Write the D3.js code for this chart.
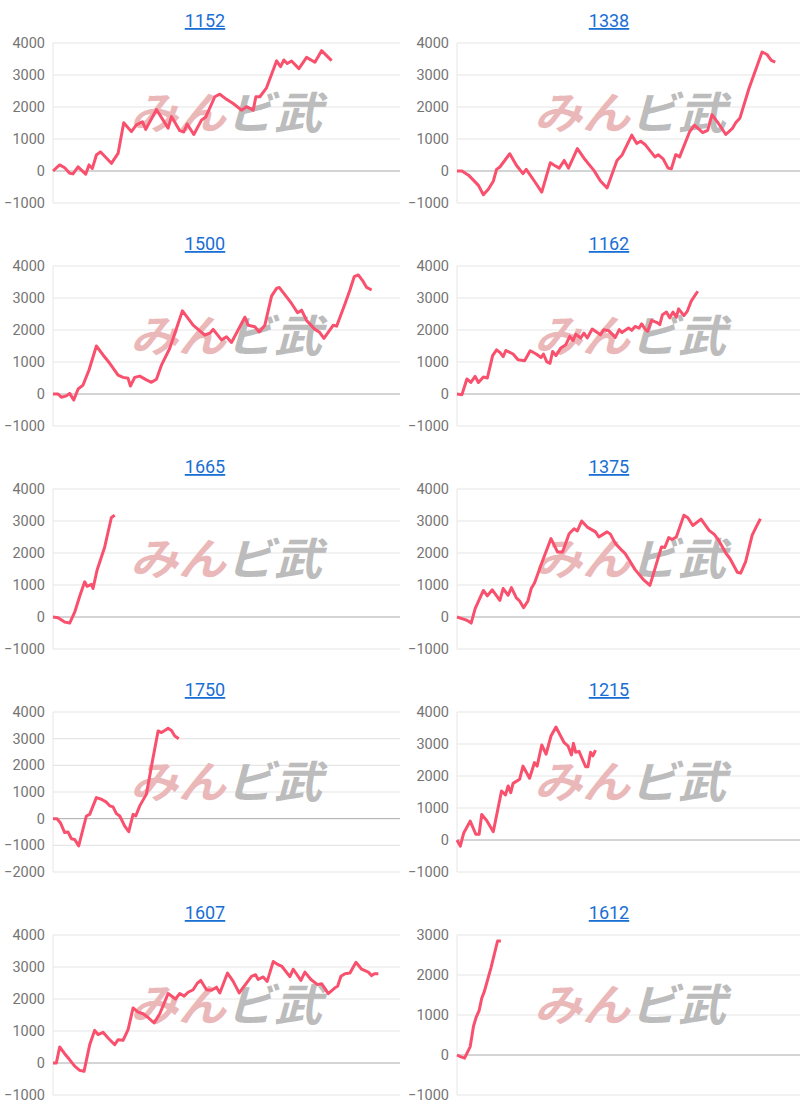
<!DOCTYPE html>
<html>
<head>
<meta charset="utf-8">
<script src="https://cdn.jsdelivr.net/npm/d3@7"></script>
<style>
  body { margin: 0; background: #fff; }
  svg { display: block; font-family: Roboto, "Noto Sans", Arial, sans-serif; }
</style>
</head>
<body>
<svg id="chart" width="800" height="1108"></svg>
<script>
// titles of each machine chart, in page order
const titles = ["1152", "1338", "1500", "1162", "1665", "1375", "1750", "1215", "1607", "1612"];

// y tick values per chart
const ticksDefault = [-1000, 0, 1000, 2000, 3000, 4000];
const ticks1750 = [-2000, -1000, 0, 1000, 2000, 3000, 4000];
const ticks1612 = [-1000, 0, 1000, 2000, 3000];

// series: [t, value]  (t = game progress, common range 0..1040)
const s1152 = [[0,0],[20,190],[35,100],[50,-70],[60,-90],[75,130],[98,-100],[108,190],[118,80],[130,500],[142,600],[175,240],[195,550],[212,1510],[235,1230],[250,1440],[268,1540],[278,1300],[310,1920],[345,1340],[355,1700],[380,1260],[392,1220],[402,1470],[422,1140],[445,1590],[458,1690],[485,2320],[500,2400],[520,2240],[540,2110],[565,1900],[580,2010],[600,1900],[608,2320],[620,2320],[640,2600],[670,3440],[682,3260],[692,3470],[702,3360],[715,3440],[737,3200],[760,3550],[785,3400],[805,3760],[835,3450]];
const s1338 = [[0,0],[15,0],[35,-130],[65,-450],[80,-740],[95,-570],[110,-320],[120,50],[130,125],[160,540],[180,180],[200,-80],[210,50],[235,-320],[257,-660],[283,260],[295,180],[310,90],[325,330],[338,90],[365,700],[385,400],[415,20],[435,-310],[455,-530],[485,330],[500,490],[530,1120],[545,860],[557,930],[570,830],[600,440],[610,510],[625,380],[640,90],[650,70],[663,510],[675,440],[705,1220],[720,1430],[745,1200],[760,1270],[773,1760],[790,1530],[815,1140],[835,1330],[845,1510],[858,1660],[885,2570],[925,3720],[940,3640],[953,3460],[965,3400]];
const s1500 = [[0,0],[15,0],[25,-100],[40,-60],[50,20],[62,-190],[75,150],[90,280],[108,750],[130,1500],[150,1220],[170,960],[195,590],[210,520],[225,490],[232,250],[245,520],[260,560],[280,440],[295,365],[310,460],[325,900],[350,1430],[388,2600],[420,2150],[455,1840],[470,1900],[480,2020],[505,1690],[520,1790],[535,1610],[575,2400],[585,2150],[605,2100],[618,1940],[635,2150],[655,3060],[670,3300],[678,3330],[715,2830],[733,2540],[745,2620],[760,2300],[785,2020],[798,1940],[812,1740],[840,2150],[850,2120],[875,2810],[890,3250],[903,3670],[915,3720],[930,3510],[940,3330],[955,3250]];
const s1162 = [[0,0],[15,-20],[30,470],[42,360],[55,550],[65,360],[80,530],[92,500],[108,1200],[120,1380],[130,1300],[140,1170],[148,1360],[170,1250],[185,1070],[205,1040],[222,1350],[240,1250],[255,1140],[262,1250],[272,1010],[282,960],[290,1330],[300,1200],[315,1440],[330,1540],[342,1800],[352,1670],[360,1870],[375,1750],[385,1900],[395,1750],[410,2030],[435,1850],[445,2010],[460,1980],[480,1770],[492,2010],[500,1920],[520,2060],[530,1990],[540,2110],[552,2060],[560,2190],[570,2030],[578,1960],[590,2300],[605,2240],[615,2170],[623,2480],[635,2560],[645,2380],[655,2560],[665,2400],[672,2660],[688,2450],[698,2580],[710,2900],[730,3210]];
const s1665 = [[0,0],[15,-20],[35,-160],[50,-190],[65,150],[80,650],[95,1100],[102,960],[115,1020],[120,890],[132,1460],[155,2190],[175,3110],[185,3180]];
const s1375 = [[0,0],[15,-50],[30,-100],[43,-190],[55,260],[80,830],[92,660],[107,850],[130,520],[140,890],[155,680],[165,920],[180,600],[190,500],[202,290],[215,500],[225,890],[235,1060],[260,1770],[285,2450],[305,2030],[320,2030],[340,2600],[355,2760],[365,2690],[378,3000],[395,2810],[420,2660],[430,2500],[455,2660],[465,2590],[480,2300],[500,2080],[510,1980],[540,1480],[565,1170],[585,990],[620,2190],[630,2170],[642,2480],[652,2420],[665,2500],[688,3180],[700,3100],[715,2860],[740,3060],[765,2700],[780,2580],[792,2420],[815,2000],[828,1820],[850,1400],[860,1370],[875,1720],[895,2560],[908,2830],[920,3070]];
const s1750 = [[0,0],[12,0],[22,-150],[35,-520],[45,-500],[55,-750],[65,-780],[77,-1020],[100,100],[110,160],[130,790],[145,730],[160,620],[170,480],[180,440],[190,190],[200,100],[215,-280],[227,-490],[240,160],[248,100],[260,480],[280,920],[298,2160],[315,3290],[325,3230],[335,3310],[345,3390],[355,3310],[365,3100],[377,3000]];
const s1215 = [[0,0],[10,-190],[20,210],[40,590],[57,180],[67,180],[75,800],[90,610],[110,260],[135,1530],[147,1410],[155,1690],[163,1480],[170,1770],[190,1900],[200,2310],[220,1930],[235,2420],[243,2310],[257,2970],[270,2680],[285,3250],[300,3530],[325,3040],[337,2930],[347,2660],[353,3020],[360,2740],[370,2770],[390,2290],[397,2290],[405,2740],[412,2630],[420,2810]];
const s1607 = [[0,0],[10,0],[20,500],[35,290],[50,100],[65,-100],[80,-230],[93,-260],[110,570],[125,1020],[135,890],[150,960],[165,780],[185,570],[195,730],[210,710],[225,1040],[240,1720],[255,1590],[270,1540],[283,1440],[303,1250],[320,1540],[345,2170],[367,2000],[380,2170],[393,2090],[405,2210],[420,2290],[433,2500],[443,2580],[460,2290],[475,2270],[490,2370],[500,2190],[523,2810],[540,2550],[558,2190],[595,2710],[607,2760],[615,2610],[630,2690],[642,2550],[660,3170],[675,3070],[685,3030],[710,2700],[720,2930],[743,2580],[755,2840],[773,2610],[793,2450],[805,2480],[825,2170],[845,2350],[853,2400],[863,2710],[875,2790],[890,2810],[908,3150],[925,2930],[945,2840],[955,2730],[963,2790],[975,2790]];
const s1612 = [[0,0],[10,-40],[23,-80],[40,210],[50,720],[58,940],[67,1110],[75,1420],[83,1590],[103,2180],[123,2850],[133,2850]];

const seriesList = [s1152, s1338, s1500, s1162, s1665, s1375, s1750, s1215, s1607, s1612];
const tickList = [ticksDefault, ticksDefault, ticksDefault, ticksDefault, ticksDefault,
                  ticksDefault, ticks1750, ticksDefault, ticksDefault, ticks1612];

const svg = d3.select('#chart');
const lineColor = '#f9506e';

titles.forEach((title, i) => {
    const col = i % 2, row = Math.floor(i / 2);
    const left = col === 0 ? 53 : 457;
    const right = col === 0 ? 400 : 800;
    const top = 43 + 223 * row;
    const plotH = 160;
    const ticks = tickList[i];

    const g = svg.append('g');

    const x = d3.scaleLinear().domain([0, 1040]).range([left, right]);
    const y = d3.scaleLinear().domain([ticks[0], ticks[ticks.length - 1]]).range([top + plotH, top]);

    // 标题
    g.append('text')
        .attr('x', col === 0 ? 205 : 609)
        .attr('y', top - 16)
        .attr('text-anchor', 'middle')
        .attr('font-size', 18)
        .attr('fill', '#1a6fd4')
        .attr('text-decoration', 'underline')
        .text(title);

    // 网格
    g.selectAll('line.grid')
        .data(ticks)
        .enter().append('line')
        .attr('x1', left).attr('x2', right)
        .attr('y1', d => y(d)).attr('y2', d => y(d))
        .attr('stroke', d => d === 0 ? '#aaaaaa' : '#e6e6e6')
        .attr('stroke-width', d => d === 0 ? 1 : 1.2);

    g.append('line')
        .attr('x1', left).attr('x2', left)
        .attr('y1', top).attr('y2', top + plotH)
        .attr('stroke', '#e6e6e6');

    // y轴
    const axis = g.append('g')
        .attr('transform', `translate(${left},0)`)
        .call(d3.axisLeft(y).tickValues(ticks).tickSize(0).tickPadding(8).tickFormat(d3.format('d')));
    axis.select('.domain').remove();
    axis.selectAll('text')
        .attr('font-size', 14.5)
        .attr('fill', '#757575')
        .attr('font-family', 'Roboto, Arial, sans-serif');

    // 水印
    const wm = g.append('text')
        .attr('x', left + 77)
        .attr('y', top + 86)
        .attr('font-size', 44)
        .attr('font-weight', 'bold')
        .attr('font-style', 'italic')
        .attr('font-family', '"Noto Sans CJK JP", sans-serif')
        .attr('textLength', 192)
        .attr('lengthAdjust', 'spacingAndGlyphs');
    wm.append('tspan').attr('fill', '#ebb8ba').text('みん');
    wm.append('tspan').attr('fill', '#bcbcbc').text('ビ武');

    // 折线
    const line = d3.line().x(d => x(d[0])).y(d => y(d[1]));
    g.append('path')
        .datum(seriesList[i])
        .attr('d', line)
        .attr('fill', 'none')
        .attr('stroke', lineColor)
        .attr('stroke-width', 3)
        .attr('stroke-linejoin', 'round');
});
</script>
</body>
</html>
